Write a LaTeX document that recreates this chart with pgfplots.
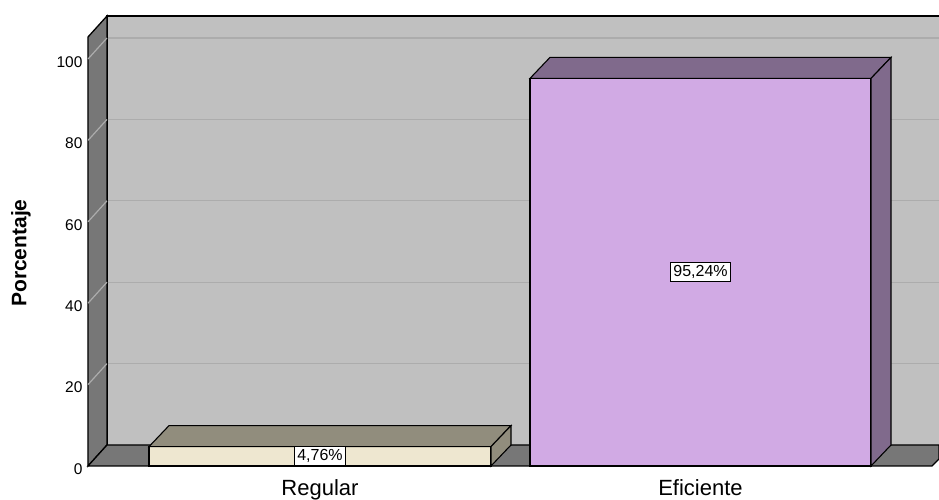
\documentclass[border=0pt]{standalone}
\usepackage{pgfplots}
\pgfplotsset{compat=1.18}
\usepackage{fontspec}
\setmainfont{Liberation Sans}
\definecolor{backwall}{HTML}{C0C0C0}
\definecolor{sidewall}{HTML}{777777}
\definecolor{gridc}{HTML}{ACACAC}
\definecolor{regfront}{HTML}{EEE7D0}
\definecolor{regdark}{HTML}{918D7D}
\definecolor{effront}{HTML}{D1AAE4}
\definecolor{efdark}{HTML}{806A8C}
\begin{document}
\begin{tikzpicture}
\begin{axis}[
  name=ax,
  scale only axis,
  width=851pt, height=450pt,
  xmin=88, xmax=939, ymin=0, ymax=110.57,
  clip=false,
  axis line style={draw=none},
  major tick length=0pt,
  xtick={320,700.5},
  xticklabels={Regular,Eficiente},
  ytick={0,20,40,60,80,100},
  /pgf/number format/assume math mode=true,
  yticklabel style={font=\fontsize{15.5}{18}\selectfont, xshift=-2pt, yshift=-3pt},
  xticklabel style={font=\fontsize{22}{26}\selectfont, yshift=-10pt},
  ylabel={Porcentaje},
  every axis y label/.style={at={(axis description cs:-0.0787,0.473)}, rotate=90, anchor=center, font=\bfseries\fontsize{21}{25}\selectfont},
]
% back wall
\fill[backwall] (axis cs:107,5.16) rectangle (axis cs:939,110.57);
\foreach \v in {20,40,60,80,100}{
  \edef\tmp{\noexpand\draw[gridc, line width=1.2pt] (axis cs:107,\v+5.16) -- (axis cs:939,\v+5.16);}
  \tmp
}
\draw[black, line width=1.3pt] (axis cs:107,5.16) -- (axis cs:107,110.57) -- (axis cs:939,110.57);
% left wall
\filldraw[fill=sidewall, draw=black, line width=1.3pt] (axis cs:88,0) -- (axis cs:88,105.41) -- (axis cs:107,110.57) -- (axis cs:107,5.16) -- cycle;
\foreach \v in {20,40,60,80,100}{
  \edef\tmp{\noexpand\draw[gridc, line width=1.2pt] (axis cs:88,\v) -- (axis cs:107,\v+5.16);}
  \tmp
}
% floor
\filldraw[fill=sidewall, draw=black, line width=1.3pt] (axis cs:88,0) -- (axis cs:107,5.16) -- (axis cs:939,5.16) -- (axis cs:939,1.72) -- (axis cs:932,0) -- cycle;
% Regular bar
\addplot[fill=regfront, draw=black, line width=1.1pt] coordinates {(149,0) (149,4.76) (491,4.76) (491,0)} -- cycle;
\addplot[fill=regdark, draw=black, line width=1.1pt] coordinates {(149,4.76) (169,9.92) (511,9.92) (491,4.76)} -- cycle;
\addplot[fill=regdark, draw=black, line width=1.1pt] coordinates {(491,0) (491,4.76) (511,9.92) (511,5.16)} -- cycle;
% Eficiente bar
\addplot[fill=effront, draw=black, line width=1.1pt] coordinates {(530,0) (530,95.24) (871,95.24) (871,0)} -- cycle;
\addplot[fill=efdark, draw=black, line width=1.1pt] coordinates {(530,95.24) (550,100.4) (891,100.4) (871,95.24)} -- cycle;
\addplot[fill=efdark, draw=black, line width=1.1pt] coordinates {(871,0) (871,95.24) (891,100.4) (891,5.16)} -- cycle;
% value labels
\node[fill=white, draw=black, line width=1pt, inner xsep=2.5pt, inner ysep=3pt, font=\fontsize{16}{19}\selectfont] at (axis cs:320,2.38) {4,76\%};
\node[fill=white, draw=black, line width=1pt, inner xsep=2.5pt, inner ysep=3pt, font=\fontsize{16}{19}\selectfont] at (axis cs:700.5,47.62) {95,24\%};
\end{axis}
\pgfresetboundingbox
\path (ax.south west) ++(-88pt,-34pt) rectangle ++(939pt,500pt);
\end{tikzpicture}
\end{document}
